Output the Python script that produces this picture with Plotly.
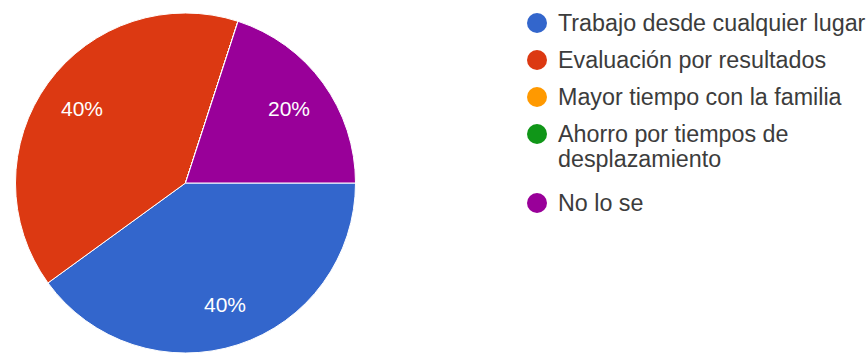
import math
import plotly.graph_objects as go

# Survey answers and their shares
labels = [
    "Trabajo desde cualquier lugar",
    "Evaluación por resultados",
    "Mayor tiempo con la familia",
    "Ahorro por tiempos de desplazamiento",
    "No lo se",
]
legend_lines = [
    ["Trabajo desde cualquier lugar"],
    ["Evaluación por resultados"],
    ["Mayor tiempo con la familia"],
    ["Ahorro por tiempos de", "desplazamiento"],
    ["No lo se"],
]
values = [2, 2, 0, 0, 1]
colors = ["#3366CC", "#DC3912", "#FF9900", "#109618", "#990099"]

W, H = 867, 354
FONT = "Liberation Sans, Arial, sans-serif"

# pie geometry (pixels)
cx, cy, R = 185.5, 183.0, 170.0
ROTATION = 90

fig = go.Figure()
fig.add_trace(go.Pie(
    labels=labels,
    values=values,
    sort=False,
    direction="clockwise",
    rotation=ROTATION,
    marker=dict(colors=colors, line=dict(color="white", width=1)),
    textinfo="none",
    hoverinfo="label+percent",
    showlegend=False,
    domain=dict(x=[(cx - R) / W, (cx + R) / W], y=[(H - cy - R) / H, (H - cy + R) / H]),
))

annotations = []
shapes = []

# percentage labels placed along each slice's middle angle
total = sum(values)
cum = 0
for v in values:
    if v > 0:
        mid = math.radians(ROTATION + 360 * (cum + v / 2) / total)
        r = 0.75 * R
        px = cx + r * math.sin(mid)
        py = cy - r * math.cos(mid)
        annotations.append(dict(
            xref="paper", yref="paper", x=px / W, y=1 - py / H,
            xanchor="center", yanchor="middle", showarrow=False,
            text=f"{round(100 * v / total)}%",
            font=dict(family=FONT, size=21, color="white"),
        ))
    cum += v

# Legend: circle markers with labels, one row per answer
y = 23
mx, tx, rad = 537, 556, 10
for lines, col in zip(legend_lines, colors):
    shapes.append(dict(
        type="circle", xref="paper", yref="paper",
        x0=(mx - rad) / W, x1=(mx + rad) / W,
        y0=1 - (y + rad) / H, y1=1 - (y - rad) / H,
        fillcolor=col, line=dict(width=0),
    ))
    ly = y
    for line in lines:
        annotations.append(dict(
            xref="paper", yref="paper", x=tx / W, y=1 - ly / H,
            xanchor="left", yanchor="middle", align="left",
            text=line, showarrow=False,
            font=dict(family=FONT, size=23.3, color="#3c3c3c"),
        ))
        ly += 25
    y += 37 + (len(lines) - 1) * 32

fig.update_layout(
    width=W, height=H,
    margin=dict(l=0, r=0, t=0, b=0),
    paper_bgcolor="white",
    plot_bgcolor="white",
    shapes=shapes,
    annotations=annotations,
)

fig.write_html("out.html")
